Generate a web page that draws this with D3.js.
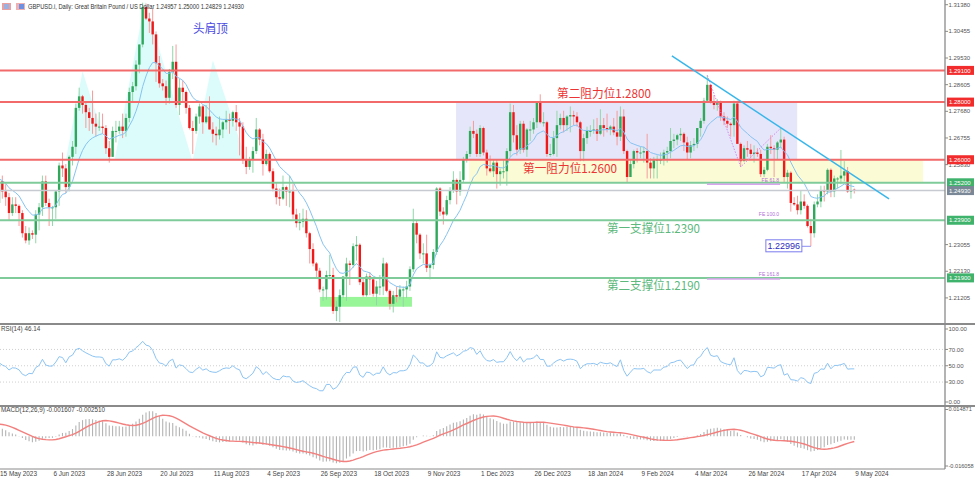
<!DOCTYPE html>
<html><head><meta charset="utf-8">
<script src="https://cdn.jsdelivr.net/npm/d3@7"></script>
<style>body{margin:0;background:#fff}svg{display:block;font-family:"Liberation Sans",Arial,sans-serif}</style>
</head><body>
<svg id="c" width="975" height="479"></svg>
<script>
// ---------- DATA (prices in 1/10000) ----------
const tickLabels = ["15 May 2023","6 Jun 2023","28 Jun 2023","20 Jul 2023","11 Aug 2023","4 Sep 2023","26 Sep 2023","18 Oct 2023","9 Nov 2023","1 Dec 2023","26 Dec 2023","18 Jan 2024","9 Feb 2024","4 Mar 2024","26 Mar 2024","17 Apr 2024","9 May 2024"];
const tickBars = [0,16,32,48,64,80,96,112,128,144,160,176,192,208,224,240,256];
const priceTicks = [1.31380,1.30455,1.29530,1.28605,1.27680,1.26755,1.25830,1.23055,1.22130,1.21205];
const rsiTicks = [100,70,50,30,0];
const macdTicks = [0.014871,-0.016058];
const levelsRed = [1.2910,1.2800,1.2600];
const levelsGreen = [1.2520,1.2390,1.2190];
const lastPrice = 1.2493;
const headerText = 'GBPUSD.i, Daily:  Great Britain Pound / US Dollar  1.24957 1.25000 1.24829 1.24930';
const rsiText = 'RSI(14) 46.14';
const macdText = 'MACD(12,26,9) -0.001607 -0.002510';

const preCloses = [12150,12160,12055,12105,12175,12230,12255,12270,12280,12235,12295,12325,12310,12390,12335,12410,12500,12460,12440,12400,12365,12420,12450,12510,12415,12395,12435,12440,12440,12440,12490,12420,12475,12450,12570,12490,12495,12565,12565,12630,12620,12630,12630,12495,12455];

const opens = [12450,12525,12490,12470,12415,12445,12440,12415,12345,12320,
12345,12340,12410,12435,12525,12450,12435,12435,12490,12580,
12570,12505,12610,12645,12780,12820,12790,12765,12745,12725,
12715,12715,12710,12640,12610,12700,12700,12715,12700,12745,
12835,12855,12930,13000,13130,13090,13080,13035,12935,12865,
12855,12815,12905,12940,12790,12850,12835,12780,12710,12700,
12750,12785,12730,12750,12705,12690,12685,12705,12730,12740,
12735,12765,12730,12715,12600,12575,12600,12630,12705,12670,
12585,12620,12560,12500,12470,12465,12505,12490,12490,12410,
12380,12385,12395,12345,12290,12240,12215,12150,12150,12200,
12200,12075,12090,12130,12195,12240,12235,12300,12305,12175,
12130,12195,12185,12135,12160,12160,12240,12145,12100,12130,
12125,12150,12150,12160,12220,12380,12340,12275,12275,12225,
12235,12280,12500,12420,12410,12460,12495,12530,12490,12530,
12600,12620,12700,12690,12620,12710,12625,12570,12560,12590,
12550,12560,12560,12630,12765,12685,12635,12725,12635,12705,
12705,12730,12800,12730,12730,12620,12620,12675,12720,12745,
12720,12750,12755,12750,12730,12630,12675,12700,12700,12705,
12690,12720,12710,12705,12715,12695,12680,12750,12630,12540,
12585,12630,12625,12625,12630,12590,12570,12600,12600,12600,
12625,12630,12665,12670,12685,12690,12660,12625,12650,12655,
12710,12735,12805,12860,12800,12790,12800,12750,12735,12725,
12720,12795,12655,12595,12640,12635,12620,12625,12620,12550,
12565,12645,12640,12635,12660,12670,12540,12555,12450,12445,
12425,12455,12440,12370,12345,12445,12455,12495,12490,12565,
12490,12535,12535,12545,12560,12490,12496];
const highs = [12545,12545,12515,12485,12470,12470,12445,12425,12370,12365,
12355,12425,12450,12545,12545,12465,12440,12495,12590,12625,
12585,12615,12665,12795,12850,12825,12800,12780,12840,12760,
12765,12760,12720,12665,12715,12735,12735,12760,12760,12850,
12870,12945,13000,13145,13142,13110,13125,13045,12960,12880,
12875,12915,12995,13000,12880,12875,12840,12790,12735,12760,
12795,12790,12790,12820,12730,12715,12750,12735,12770,12760,
12770,12790,12745,12730,12645,12610,12645,12745,12710,12690,
12635,12625,12570,12520,12500,12545,12510,12545,12515,12430,
12415,12430,12425,12350,12310,12245,12225,12160,12215,12270,
12225,12110,12150,12190,12260,12250,12310,12335,12310,12190,
12205,12210,12190,12180,12200,12260,12245,12150,12145,12160,
12165,12160,12180,12230,12430,12390,12345,12310,12340,12240,
12290,12505,12505,12435,12475,12505,12560,12535,12560,12610,
12630,12715,12735,12705,12720,12715,12635,12615,12600,12600,
12570,12600,12640,12795,12790,12720,12735,12735,12710,12735,
12745,12800,12827,12765,12735,12655,12700,12770,12760,12770,
12755,12785,12770,12765,12735,12690,12715,12720,12740,12745,
12775,12745,12760,12720,12745,12770,12785,12775,12635,12600,
12635,12640,12645,12645,12690,12605,12610,12615,12625,12635,
12645,12710,12690,12690,12710,12695,12680,12665,12675,12710,
12745,12815,12893,12860,12825,12810,12805,12765,12750,12730,
12805,12805,12660,12650,12665,12655,12650,12640,12635,12575,
12655,12685,12650,12665,12710,12680,12565,12560,12470,12475,
12495,12480,12445,12395,12455,12480,12510,12510,12570,12570,
12545,12540,12634,12595,12575,12525,12500];
const lows = [12440,12465,12440,12390,12405,12415,12370,12330,12310,12305,
12325,12310,12355,12405,12440,12370,12370,12395,12440,12540,
12485,12490,12580,12620,12770,12760,12710,12700,12690,12680,
12700,12690,12620,12590,12610,12660,12690,12675,12680,12730,
12800,12840,12900,12990,13085,13040,13000,12870,12850,12840,
12790,12795,12880,12780,12755,12800,12760,12705,12620,12690,
12725,12690,12725,12705,12660,12650,12670,12675,12705,12690,
12715,12700,12615,12585,12550,12565,12555,12620,12650,12545,
12580,12555,12490,12445,12440,12460,12440,12435,12395,12365,
12355,12365,12330,12240,12230,12190,12140,12110,12115,12185,
12065,12040,12037,12120,12110,12165,12225,12250,12165,12125,
12125,12130,12125,12095,12130,12130,12140,12080,12070,12105,
12115,12090,12120,12145,12210,12310,12255,12240,12210,12185,
12220,12270,12405,12375,12405,12445,12485,12445,12475,12520,
12590,12610,12675,12610,12610,12615,12545,12555,12540,12500,
12510,12535,12510,12610,12660,12615,12620,12625,12610,12665,
12690,12710,12725,12715,12610,12610,12615,12610,12705,12695,
12700,12695,12720,12715,12595,12595,12655,12680,12690,12665,
12685,12680,12695,12685,12685,12650,12665,12620,12520,12540,
12570,12590,12605,12590,12535,12535,12535,12535,12585,12580,
12590,12605,12640,12650,12665,12630,12600,12605,12630,12640,
12680,12725,12800,12795,12775,12770,12735,12720,12710,12680,
12680,12665,12575,12595,12610,12605,12590,12610,12540,12540,
12560,12620,12540,12600,12640,12520,12500,12420,12440,12410,
12410,12430,12365,12300,12330,12435,12435,12455,12480,12470,
12470,12500,12515,12525,12485,12465,12483];
const closes = [12525,12490,12470,12415,12445,12440,12415,12345,12320,12345,
12340,12410,12435,12525,12450,12435,12435,12490,12580,12570,
12505,12610,12645,12780,12820,12790,12765,12745,12725,12715,
12715,12710,12640,12610,12700,12700,12715,12700,12745,12835,
12855,12930,13000,13130,13090,13080,13035,12935,12865,12855,
12815,12905,12940,12790,12850,12835,12780,12710,12700,12750,
12785,12730,12750,12705,12690,12685,12705,12730,12740,12735,
12765,12730,12715,12600,12575,12600,12630,12705,12670,12585,
12620,12560,12500,12470,12465,12505,12490,12490,12410,12380,
12385,12395,12345,12290,12240,12215,12150,12150,12200,12200,
12075,12090,12130,12195,12240,12235,12300,12305,12175,12130,
12195,12185,12135,12160,12160,12240,12145,12100,12130,12125,
12150,12150,12160,12220,12380,12340,12275,12275,12225,12235,
12280,12500,12420,12410,12460,12495,12530,12490,12530,12600,
12620,12700,12690,12620,12710,12625,12570,12560,12590,12550,
12560,12560,12630,12765,12685,12635,12725,12635,12705,12705,
12730,12800,12730,12730,12620,12620,12675,12720,12745,12720,
12750,12755,12750,12730,12630,12675,12700,12700,12705,12690,
12720,12710,12705,12715,12695,12680,12750,12630,12540,12585,
12630,12625,12625,12630,12590,12570,12600,12600,12600,12625,
12630,12665,12670,12685,12690,12660,12625,12650,12655,12710,
12735,12805,12860,12800,12790,12800,12750,12735,12725,12720,
12795,12655,12595,12640,12635,12620,12625,12620,12550,12565,
12645,12640,12635,12660,12670,12540,12555,12450,12445,12425,
12455,12440,12370,12345,12445,12455,12495,12490,12565,12490,
12535,12535,12545,12560,12490,12493,12493];

// ---------- LAYOUT ----------
const svg = d3.select('#c');
const axisX = 945, mainBottom = 324, rsiBottom = 406, macdBottom = 469;
const x = d3.scaleLinear().domain([0,256]).range([-1, -1 + 256*3.341]);
const y = d3.scaleLinear().domain([1.2030, 1.31543]).range([mainBottom, 0]);
const yR = d3.scaleLinear().domain([0,100]).range([406.5, 325]);
const yM = d3.scaleLinear().domain([-0.016058, 0.014871]).range([macdBottom, rsiBottom]);
const P = v => v/10000;

const defs = svg.append('defs');
[['cm',0,0,axisX,mainBottom],['cr',0,mainBottom,axisX,rsiBottom-mainBottom],['cd',0,rsiBottom,axisX,macdBottom-rsiBottom]]
 .forEach(([id,a,b,w,h])=>defs.append('clipPath').attr('id',id).append('rect').attr('x',a).attr('y',b).attr('width',w).attr('height',h));

const gm = svg.append('g').attr('clip-path','url(#cm)');

// background objects
const lavender = {i0:136.8, i1:238.9, p0:1.2800, p1:1.2600};
const yellow = {i0:140.7, i1:276.6, p0:1.2600, p1:1.2520};
gm.append('rect').attr('x',x(lavender.i0)).attr('y',y(lavender.p0)).attr('width',x(lavender.i1)-x(lavender.i0)).attr('height',y(lavender.p1)-y(lavender.p0)).attr('fill','#e6e6fa');
gm.append('rect').attr('x',x(yellow.i0)).attr('y',y(yellow.p0)).attr('width',x(yellow.i1)-x(yellow.i0)).attr('height',y(yellow.p1)-y(yellow.p0)).attr('fill','#fbfbd6');
const greenBox = {i0:96.1, i1:123.6, p0:1.2124, p1:1.2090};
gm.append('rect').attr('x',x(greenBox.i0)).attr('y',y(greenBox.p0)).attr('width',x(greenBox.i1)-x(greenBox.i0)).attr('height',y(greenBox.p1)-y(greenBox.p0)).attr('fill','#98f598');

// head & shoulders shapes [bar index, price]
const hsShapes = [
  [[20,1.2600],[25,1.2907],[33.5,1.2600]],
  [[34.6,1.2600],[43.7,1.3150],[57.8,1.2600]],
  [[58,1.2600],[64,1.2945],[74,1.2600]]
];
hsShapes.forEach(s=>gm.append('path').attr('d',d3.line().x(d=>x(d[0])).y(d=>y(d[1]))(s)+'Z').attr('fill','#dcfcfc'));

// candles
const N = closes.length;
const cg = gm.append('g');
for (let i=0;i<N;i++){
  const o=P(opens[i]),h=P(highs[i]),l=P(lows[i]),c=P(closes[i]);
  const up = c>=o;
  cg.append('line').attr('x1',x(i)).attr('x2',x(i)).attr('y1',y(h)).attr('y2',y(l))
    .attr('stroke', up?'#92d6aa':'#f49c9c').attr('stroke-width',1);
  const top=y(Math.max(o,c)), bot=y(Math.min(o,c));
  cg.append('rect').attr('x',x(i)-1.2).attr('width',2.4).attr('y',top).attr('height',Math.max(1,bot-top))
    .attr('fill', up?'#2fa85c':'#f01818');
}

// indicators
const all = preCloses.concat(closes).map(P);
const n0 = preCloses.length;
function ema(arr,p){const k=2/(p+1);let e=arr[0];return arr.map((v,i)=>i===0?e:(e=v*k+e*(1-k)));}
const ma = ema(all,12).slice(n0);
gm.append('path').attr('d', d3.line().x((d,i)=>x(i)).y(d=>y(d))(ma))
  .attr('fill','none').attr('stroke','#86c3f2').attr('stroke-width',1);

// horizontal levels
levelsRed.forEach(v=>gm.append('line').attr('x1',0).attr('x2',axisX).attr('y1',y(v)).attr('y2',y(v)).attr('stroke','#f26a6a').attr('stroke-width',2));
levelsGreen.forEach(v=>gm.append('line').attr('x1',0).attr('x2',axisX).attr('y1',y(v)).attr('y2',y(v)).attr('stroke','#7fcc9a').attr('stroke-width',2));
gm.append('line').attr('x1',0).attr('x2',axisX).attr('y1',y(lastPrice)).attr('y2',y(lastPrice)).attr('stroke','#c8cad2').attr('stroke-width',1.5);

// fibo expansion
const fePts = [[212,P(highs[212])],[222,P(lows[222])],[234,P(highs[234])]];
gm.append('path').attr('d',d3.line().x(d=>x(d[0])).y(d=>y(d[1]))(fePts)).attr('fill','none').attr('stroke','#d08ae8').attr('stroke-width',1).attr('stroke-dasharray','1.5,1.5');
const feLevels = [{p:1.2518,t:'FE 61.8',line:true},{p:1.2400,t:'FE 100.0',line:false},{p:1.2190,t:'FE 161.8',line:true}];
feLevels.forEach(f=>{
  if(f.line) gm.append('line').attr('x1',x(211.9)).attr('x2',x(233.8)).attr('y1',y(f.p)+1).attr('y2',y(f.p)+1).attr('stroke','#d9a4ee').attr('stroke-width',1.5);
  gm.append('text').attr('x',x(233.8)-1).attr('y',y(f.p)-1.5).attr('text-anchor','end').attr('font-size',5).attr('fill','#b070d8').text(f.t);
});

// trend line
const tl = [[201.4,1.2960],[266.4,1.24638]];
gm.append('line').attr('x1',x(tl[0][0])).attr('y1',y(tl[0][1])).attr('x2',x(tl[1][0])).attr('y2',y(tl[1][1])).attr('stroke','#38b6ea').attr('stroke-width',1.5);

// low marker box
const lowI = 243, lowV = 1.22996;
gm.append('line').attr('x1',x(lowI)-9).attr('x2',x(lowI)).attr('y1',y(lowV)).attr('y2',y(lowV)).attr('stroke','#8c8cf0').attr('stroke-width',1);
gm.append('rect').attr('x',x(lowI)-45).attr('y',y(lowV)-6.5).attr('width',36).attr('height',12).attr('fill','#fff').attr('stroke','#7b7bf0').attr('stroke-width',1);
gm.append('text').attr('x',x(lowI)-27).attr('y',y(lowV)+3).attr('text-anchor','middle').attr('font-size',9).attr('fill','#2b2bc0').text('1.22996');

// Chinese annotations
const cjk = '"Noto Sans CJK SC","Noto Sans",sans-serif';
const notes = [
  {t:'头肩顶',x:193,y:33,c:'#4b4be0',w:35,fs:12},
  {t:'第二阻力位1.2800',x:557,y:98,c:'#ec3434',w:94,fs:12},
  {t:'第一阻力位1.2600',x:523,y:173,c:'#ec3434',w:94,fs:12},
  {t:'第一支撑位1.2390',x:607,y:233,c:'#5cb87c',w:93,fs:12},
  {t:'第二支撑位1.2190',x:607,y:290,c:'#5cb87c',w:93,fs:12}
];
notes.forEach(n=>gm.append('text').attr('x',n.x).attr('y',n.y).attr('font-size',n.fs).attr('font-family',cjk).attr('fill',n.c)
  .attr('textLength',n.w).attr('lengthAdjust','spacingAndGlyphs').text(n.t));

// ---------- RSI ----------
const gr = svg.append('g').attr('clip-path','url(#cr)');
[70,50,30].forEach(v=>gr.append('line').attr('x1',0).attr('x2',axisX).attr('y1',yR(v)).attr('y2',yR(v)).attr('stroke','#c4c4c4').attr('stroke-width',0.8).attr('stroke-dasharray','1,2'));
function rsiCalc(arr,p){
  const out=arr.map(()=>null); let ag=0,al=0;
  for(let i=1;i<arr.length;i++){
    const ch=arr[i]-arr[i-1], g=Math.max(ch,0), l=Math.max(-ch,0);
    if(i<=p){ag+=g/p;al+=l/p; if(i===p) out[i]=al===0?100:100-100/(1+ag/al);}
    else{ag=(ag*(p-1)+g)/p; al=(al*(p-1)+l)/p; out[i]=al===0?100:100-100/(1+ag/al);}
  }
  return out;
}
const rsi = rsiCalc(all,14).slice(n0);
gr.append('path').attr('d',d3.line().defined(d=>d!=null).x((d,i)=>x(i)).y(d=>yR(d))(rsi)).attr('fill','none').attr('stroke','#8cc4f4').attr('stroke-width',1);

// ---------- MACD ----------
const gd = svg.append('g').attr('clip-path','url(#cd)');
const e12=ema(all,12), e26=ema(all,26);
const macdAll = all.map((v,i)=>e12[i]-e26[i]);
const sigAll = macdAll.map((v,i)=>i<8?null:d3.mean(macdAll.slice(i-8,i+1)));
const macd = macdAll.slice(n0), sig = sigAll.slice(n0);
macd.forEach((v,i)=>gd.append('line').attr('x1',x(i)).attr('x2',x(i)).attr('y1',yM(0)).attr('y2',yM(v)).attr('stroke','#b4b4b4').attr('stroke-width',1.1));
gd.append('path').attr('d',d3.line().x((d,i)=>x(i)).y(d=>yM(d))(sig)).attr('fill','none').attr('stroke','#f2807e').attr('stroke-width',1.4);

// ---------- FRAMES & AXES ----------
const ax = svg.append('g');
ax.append('line').attr('x1',axisX).attr('x2',axisX).attr('y1',0).attr('y2',macdBottom).attr('stroke','#8a8a8a').attr('stroke-width',1.3);
[mainBottom,rsiBottom].forEach(v=>ax.append('line').attr('x1',0).attr('x2',975).attr('y1',v).attr('y2',v).attr('stroke','#8a8a8a').attr('stroke-width',2));
ax.append('line').attr('x1',0).attr('x2',axisX).attr('y1',macdBottom).attr('y2',macdBottom).attr('stroke','#8a8a8a').attr('stroke-width',1);

const lab = (g,yy,t,fs)=>{g.append('line').attr('x1',axisX).attr('x2',axisX+3).attr('y1',yy).attr('y2',yy).attr('stroke','#8a8a8a');
  g.append('text').attr('x',axisX+3.5).attr('y',yy).attr('dy','0.35em').attr('font-size',fs||6).attr('fill','#555').text(t);};
priceTicks.forEach(v=>lab(ax,y(v),v.toFixed(5)));
const rsiLabY = {100:329,70:yR(70),50:yR(50),30:yR(30),0:402};
rsiTicks.forEach(v=>lab(ax,rsiLabY[v],v.toFixed(2)));
lab(ax,409.5,macdTicks[0].toFixed(6),5.6); lab(ax,466,macdTicks[1].toFixed(6),5.6);

// price boxes
const box=(v,fill,t)=>{const yy=y(v); ax.append('rect').attr('x',axisX+2).attr('y',yy-4.5).attr('width',27).attr('height',9).attr('fill',fill);
  ax.append('text').attr('x',axisX+4).attr('y',yy).attr('dy','0.35em').attr('font-size',6).attr('fill','#fff').text(t);};
levelsRed.forEach(v=>box(v,'#f22c2c',v.toFixed(5)));
levelsGreen.forEach(v=>box(v,'#3fb36b',v.toFixed(5)));
box(lastPrice,'#7a8796',lastPrice.toFixed(5));

// time labels
tickBars.forEach((b,k)=>ax.append('text').attr('x',x(b)+1).attr('y',476).attr('font-size',6.4).attr('fill','#444').text(tickLabels[k]));

// header
ax.append('rect').attr('x',2).attr('y',3).attr('width',9).attr('height',7).attr('fill','#e8a0a0');
ax.append('rect').attr('x',4).attr('y',4).attr('width',5).attr('height',5).attr('fill','#9ab0e0');
ax.append('rect').attr('x',16).attr('y',3).attr('width',9).attr('height',7).attr('fill','#f0b0b0');
ax.append('rect').attr('x',19).attr('y',4).attr('width',5).attr('height',5).attr('fill','#6f8fe0');
ax.append('text').attr('x',28).attr('y',8.5).attr('font-size',6.5).attr('fill','#333').attr('textLength',216).attr('lengthAdjust','spacingAndGlyphs').text(headerText);
ax.append('text').attr('x',1).attr('y',331).attr('font-size',6.3).attr('fill','#444').text(rsiText);
ax.append('text').attr('x',1).attr('y',412).attr('font-size',6.3).attr('fill','#444').text(macdText);
</script>
</body></html>
